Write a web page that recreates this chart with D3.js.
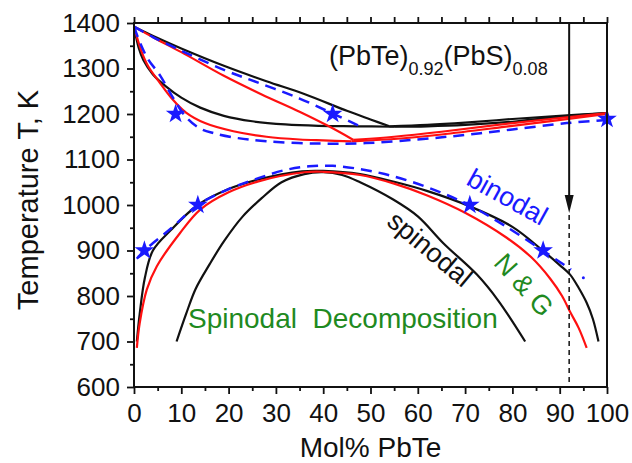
<!DOCTYPE html>
<html>
<head>
<meta charset="utf-8">
<script src="https://cdn.jsdelivr.net/npm/d3@7"></script>
<style>
  html, body { margin: 0; padding: 0; background: #fff; }
  svg { display: block; font-family: "Liberation Sans", Arial, sans-serif; }
</style>
</head>
<body>
<svg id="chart" width="632" height="463"></svg>
<script>
// Composition axis: mol% PbTe; temperature in K
const xTicks = [0, 10, 20, 30, 40, 50, 60, 70, 80, 90, 100];
const yTicks = [600, 700, 800, 900, 1000, 1100, 1200, 1300, 1400];

// Liquidus / solidus (upper region)
const liquidusBlack = [[0,1392],[5,1367],[10,1344],[19,1306],[28,1272],[36,1244],[45,1207],[50,1188],[54,1173]];
const solidusBlack  = [[0,1392],[1,1345],[2,1318],[4,1287],[6.6,1262],[10,1236],[14,1214],[19,1196],[25,1184],[32,1177],[39,1174],[47,1173],[55,1172]];
const lensBlackUpper = [[54,1173],[62,1176],[70,1181],[80,1189],[90,1196],[100,1202]];
const lensBlackLower = [[55,1172],[62,1173],[70,1176],[80,1183],[90,1194],[100,1202]];

const liquidusRed = [[0,1392],[5,1363],[10,1336],[19,1284],[27,1243],[35,1205],[41,1174],[46.4,1143]];
const solidusRed  = [[0,1392],[1.5,1340],[3,1305],[5.5,1268],[8,1234],[11,1203],[15,1180],[21,1162],[28,1150],[35,1144],[40,1142],[46,1140]];
const lensRedUpper = [[46.4,1143],[55,1150],[65,1161],[80,1180],[100,1202]];
const lensRedLower = [[46,1140],[55,1145],[65,1155],[80,1174],[100,1200]];

const liquidusBlue = [[0,1392],[4,1369],[8,1349],[19,1297],[27,1266],[35,1234],[42,1201],[48,1172]];
const solidusBlue  = [[0,1392],[1.3,1356],[3,1320],[5.5,1285],[8.3,1235],[11.1,1192],[14,1168],[16.8,1158],[22,1147],[28,1140],[39,1135],[49,1136],[60,1144],[70,1154],[80,1166],[91.5,1180],[100,1187]];

// Miscibility gap (lower region)
const binodalBlack = [[0.6,700],[1.2,760],[2.3,840],[4,900],[7.8,945],[13.5,1000],[20,1035],[26.3,1056],[35.5,1074],[40,1075],[47.8,1068],[55,1051],[61.9,1031],[71,997],[80,952],[86.4,900],[90,868],[92.2,847],[94,818],[95.7,785],[97,750],[98.2,700]];
const binodalRed = [[0.6,686],[1.2,740],[2.7,814],[4.8,865],[9.7,938],[14,990],[20,1028],[26.3,1052],[36,1072],[40,1073],[47.8,1066],[55,1047],[62,1021],[70,983],[78.8,928],[84,885],[88,838],[90.5,800],[92.3,763],[94,730],[95.7,686]];
const binodalBlue = [[0.6,882],[2.2,900],[8,950],[13.5,1000],[20,1035],[26.3,1059],[32,1077],[37,1085],[42,1086],[47.8,1079],[53,1068],[58.4,1052],[65,1027],[71,999],[78,957],[86.4,900],[92.4,858]];
const binodalBlueTail = [[95,840]];
const spinodalBlack = [[9,700],[11,760],[13,815],[16,870],[19,920],[23,975],[27,1015],[31.2,1050],[36,1068],[40,1072],[44,1066],[47.8,1050],[54.8,1012],[60,975],[65.4,916],[72.5,847],[77,790],[82.7,700]];

// Experimental points (stars)
const starsLower = [[2.2,900],[13.5,1000],[71,1000],[86.5,900]];
const starsUpper = [[8.8,1200],[42,1200],[100,1189]];

// Composition marker
const markerX = 92;

const svg = d3.select("#chart");
const plotLeft = 134, plotRight = 607, plotTop = 23, plotBottom = 387;

const x = d3.scaleLinear().domain([0, 100]).range([plotLeft, plotRight]);
const y = d3.scaleLinear().domain([600, 1400]).range([plotBottom, plotTop]);

const BLACK = "#111", RED = "#ff1010", BLUE = "#1a1aff", GREEN = "#1f8a1f";

const line = d3.line().x(d => x(d[0])).y(d => y(d[1])).curve(d3.curveCatmullRom.alpha(0.5));

function path(data, color, width, dash) {
  const p = svg.append("path").datum(data)
    .attr("d", line)
    .attr("fill", "none")
    .attr("stroke", color)
    .attr("stroke-width", width)
    .attr("stroke-linejoin", "round")
    .attr("stroke-linecap", "butt");
  if (dash) p.attr("stroke-dasharray", dash);
  return p;
}

// Curves
path(liquidusBlack, BLACK, 2.2);
path(solidusBlack, BLACK, 2.2);
path(lensBlackUpper, BLACK, 2.2);
path(lensBlackLower, BLACK, 2.2);
path(liquidusRed, RED, 2.2);
path(solidusRed, RED, 2.2);
path(lensRedUpper, RED, 2.2);
path(lensRedLower, RED, 2.2);
path(liquidusBlue, BLUE, 2.5, "11,7");
path(solidusBlue, BLUE, 2.5, "11,7");

path(spinodalBlack, BLACK, 2.2);
path(binodalBlack, BLACK, 2.2);
path(binodalRed, RED, 2.2);
path(binodalBlue, BLUE, 2.5, "11,7");
svg.selectAll("circle.tail").data(binodalBlueTail).enter().append("circle")
  .attr("cx", d => x(d[0])).attr("cy", d => y(d[1])).attr("r", 1.5).attr("fill", BLUE);

// Stars
const star = d3.symbol().type(d3.symbolStar).size(120);
svg.selectAll("path.star").data(starsLower.concat(starsUpper)).enter().append("path")
  .attr("class", "star")
  .attr("d", star)
  .attr("transform", d => `translate(${x(d[0])},${y(d[1])})`)
  .attr("fill", BLUE);

// Composition marker: arrow then dashed line down to axis
const arrowTip = 213;
svg.append("line").attr("x1", x(markerX)).attr("x2", x(markerX))
  .attr("y1", plotTop).attr("y2", arrowTip - 14)
  .attr("stroke", BLACK).attr("stroke-width", 2);
svg.append("path")
  .attr("d", `M${x(markerX) - 4.5},${arrowTip - 18} L${x(markerX) + 4.5},${arrowTip - 18} L${x(markerX)},${arrowTip} Z`)
  .attr("fill", BLACK);
svg.append("line").attr("x1", x(markerX)).attr("x2", x(markerX))
  .attr("y1", arrowTip + 2).attr("y2", plotBottom)
  .attr("stroke", BLACK).attr("stroke-width", 1.5).attr("stroke-dasharray", "5,4");

// Axes
const axisStyle = g => {
  g.select(".domain").remove();
  g.selectAll("line").attr("stroke", BLACK).attr("stroke-width", 1.8);
  g.selectAll("text").attr("fill", "#111").style("font-size", "26px").style("font-family", "'Liberation Sans', Arial, sans-serif");
};
const xMinor = d3.range(5, 100, 10);
const yMinor = d3.range(650, 1400, 100);

svg.append("g").attr("transform", `translate(0,${plotBottom})`)
  .call(d3.axisBottom(x).tickValues(xTicks).tickSize(7).tickPadding(10).tickFormat(d3.format("d")))
  .call(axisStyle);
svg.append("g").attr("transform", `translate(0,${plotBottom})`)
  .call(d3.axisBottom(x).tickValues(xMinor).tickSize(4).tickFormat(""))
  .call(axisStyle);
svg.append("g").attr("transform", `translate(0,${plotTop})`)
  .call(d3.axisTop(x).tickValues(xTicks.concat(xMinor)).tickSize(6).tickFormat(""))
  .call(axisStyle);
svg.append("g").attr("transform", `translate(${plotLeft},0)`)
  .call(d3.axisLeft(y).tickValues(yTicks).tickSize(7).tickPadding(7).tickFormat(d3.format("d")))
  .call(axisStyle);
svg.append("g").attr("transform", `translate(${plotLeft},0)`)
  .call(d3.axisLeft(y).tickValues(yMinor).tickSize(4).tickFormat(""))
  .call(axisStyle);

// Frame
svg.append("rect").attr("x", plotLeft).attr("y", plotTop).attr("width", plotRight - plotLeft).attr("height", plotBottom - plotTop)
  .attr("fill", "none").attr("stroke", BLACK).attr("stroke-width", 2);

// Axis titles
svg.append("text").attr("transform", "translate(38,200) rotate(-90)")
  .attr("text-anchor", "middle").style("font-size", "29px").attr("fill", "#111")
  .text("Temperature T, K");
svg.append("text").attr("x", x(50)).attr("y", 457)
  .attr("text-anchor", "middle").style("font-size", "28px").attr("fill", "#111")
  .text("Mol% PbTe");

// Composition label
const title = svg.append("text").attr("x", 329).attr("y", 65).style("font-size", "27px").attr("fill", "#111");
title.append("tspan").text("(PbTe)");
title.append("tspan").attr("dy", 10).style("font-size", "18px").text("0.92");
title.append("tspan").attr("dy", -10).text("(PbS)");
title.append("tspan").attr("dy", 10).style("font-size", "18px").text("0.08");

// Curve labels
svg.append("text").attr("transform", "translate(503,205) rotate(29)")
  .attr("text-anchor", "middle").style("font-size", "27px").attr("fill", BLUE).text("binodal");
svg.append("text").attr("transform", "translate(424,256) rotate(40)")
  .attr("text-anchor", "middle").style("font-size", "27px").attr("fill", BLACK).text("spinodal");
svg.append("text").attr("transform", "translate(517,291) rotate(48)")
  .attr("text-anchor", "middle").style("font-size", "27px").attr("fill", GREEN).text("N & G");
svg.append("text").attr("x", 188).attr("y", 328)
  .style("font-size", "28px").attr("fill", GREEN).attr("xml:space", "preserve")
  .text("Spinodal  Decomposition");
</script>
</body>
</html>
